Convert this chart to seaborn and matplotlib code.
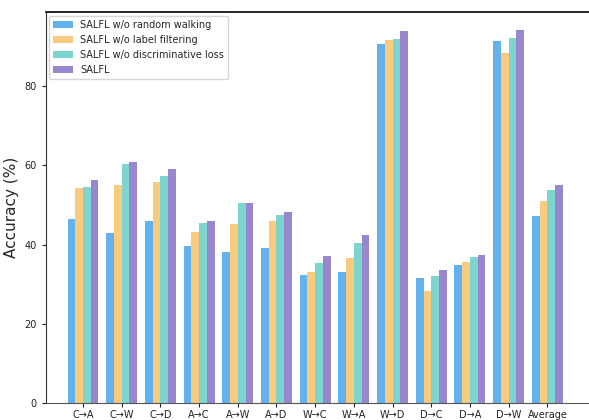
import matplotlib
matplotlib.use("Agg")
import matplotlib.pyplot as plt
import seaborn as sns
import pandas as pd

tasks = ["C→A", "C→W", "C→D", "A→C", "A→W", "A→D", "W→C", "W→A",
         "W→D", "D→C", "D→A", "D→W", "Average"]
methods = ["SALFL w/o random walking", "SALFL w/o label filtering",
           "SALFL w/o discriminative loss", "SALFL"]

no_random_walk = [46.4, 42.9, 45.9, 39.6, 38.1, 39.1, 32.3, 33.1, 90.5, 31.6, 34.8, 91.3, 47.2]
no_label_filter = [54.2, 55.0, 55.7, 43.2, 45.2, 45.9, 33.1, 36.6, 91.5, 28.3, 35.6, 88.2, 51.0]
no_disc_loss = [54.5, 60.3, 57.2, 45.4, 50.5, 47.4, 35.4, 40.4, 91.8, 32.1, 36.9, 92.0, 53.7]
salfl = [56.3, 60.8, 59.0, 45.9, 50.5, 48.2, 37.1, 42.4, 93.8, 33.6, 37.4, 94.1, 55.0]

colors = ["#63b2ee", "#f8cb7f", "#7cd6cf", "#9987ce"]

series = [no_random_walk, no_label_filter, no_disc_loss, salfl]
rows = []
for m, vals in zip(methods, series):
    for t, v in zip(tasks, vals):
        rows.append({"Task": t, "Method": m, "Accuracy": v})
df = pd.DataFrame(rows)

sns.set_style("ticks")
plt.rcParams["font.family"] = ["DejaVu Sans"]

fig = plt.figure(figsize=(5.89, 4.20), dpi=100)
ax = fig.add_axes([46 / 589, 16.7 / 420, 547.8 / 589, 391.8 / 420])

sns.barplot(data=df, x="Task", y="Accuracy", hue="Method", order=tasks,
            hue_order=methods, palette=colors, saturation=1, width=0.8,
            errorbar=None, linewidth=0, edgecolor="none", ax=ax)

ax.set_xlim(-0.956, 13.2)
ax.set_ylim(0, 98.7)
ax.set_yticks([0, 20, 40, 60, 80])
ax.set_xlabel("")
ax.set_ylabel("Accuracy (%)", fontsize=11)
ax.tick_params(axis="both", labelsize=7, length=3, width=0.8, colors="#222222")
ax.tick_params(axis="x", pad=1.5)

ax.spines["right"].set_visible(False)
ax.spines["top"].set_color("black")
ax.spines["top"].set_linewidth(1.2)
ax.spines["left"].set_color("#333333")
ax.spines["bottom"].set_color("#555555")

leg = ax.legend(loc="upper left", fontsize=7, frameon=True,
                bbox_to_anchor=(0.006, 0.988), borderaxespad=0.0,
                handlelength=2.0, handleheight=0.7)
leg.get_frame().set_edgecolor("#cccccc")
for h in leg.legend_handles:
    h.set_linewidth(0)

fig.savefig("out.png", dpi=100)
